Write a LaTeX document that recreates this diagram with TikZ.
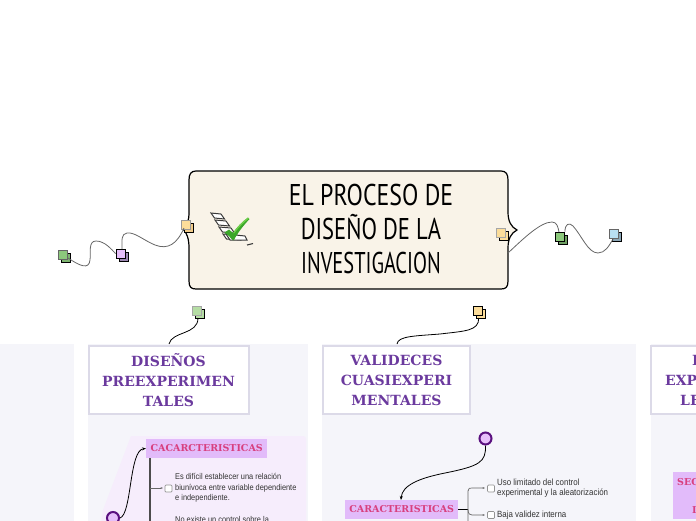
\documentclass[tikz,border=0pt]{standalone}
\usepackage{graphicx}
\usepackage{fontspec}
\setmainfont{Liberation Sans}
\newfontfamily\bodyfont[FakeStretch=0.88]{Liberation Sans}
\newfontfamily\titlefont[FakeStretch=0.82]{PT Sans}
\newfontfamily\headfont{DejaVu Serif}
\usetikzlibrary{arrows.meta}
\definecolor{panelbg}{HTML}{F5F5FA}
\definecolor{hborder}{HTML}{DCDAE8}
\definecolor{hpurple}{HTML}{6B3A9E}
\definecolor{paper}{HTML}{F9F3E8}
\definecolor{lilac}{HTML}{F6EDFC}
\definecolor{tagbg}{HTML}{E2BBFA}
\definecolor{tagtxt}{HTML}{D8407F}
\definecolor{ringc}{HTML}{5A107F}
\definecolor{ringf}{HTML}{E6BFFA}
\definecolor{wire}{HTML}{666666}
\definecolor{bodytxt}{HTML}{333333}
\definecolor{myel}{HTML}{FCDD9A}
\definecolor{mgrn}{HTML}{8CC97C}
\definecolor{mgrnb}{HTML}{6E9F62}
\definecolor{mpale}{HTML}{B5DDA4}
\definecolor{mblue}{HTML}{B8DFF2}
\definecolor{mblueb}{HTML}{8AA5B5}
\definecolor{mpurb}{HTML}{9B86B0}
\definecolor{checkg}{HTML}{3BA72A}
\definecolor{checkl}{HTML}{6FD04A}
\definecolor{listd}{HTML}{3A3A3A}
\tikzset{
  x=1pt,y=-1pt,
  panel/.style={fill=panelbg,draw=none},
  headbox/.style={draw=hborder,line width=2pt,fill=white,minimum height=68pt,inner sep=0pt},
  headtext/.style={text=hpurple,font=\headfont\bfseries\fontsize{14}{20}\selectfont,align=center,inner sep=0pt},
  headfrag/.style={text=hpurple,font=\headfont\bfseries\fontsize{14}{20}\selectfont,anchor=west,inner sep=0pt},
  titletext/.style={font=\titlefont\fontsize{30}{34}\selectfont,align=center,inner sep=0pt,text=black},
  tag/.style={fill=tagbg,text=tagtxt,font=\headfont\bfseries\fontsize{9.5}{11}\selectfont,inner sep=0pt,minimum height=19pt},
  tagfrag/.style={text=tagtxt,font=\headfont\bfseries\fontsize{9.5}{11}\selectfont,anchor=west,inner sep=0pt},
  body/.style={text=bodytxt,font=\bodyfont\fontsize{8.4}{10.3}\selectfont,align=left,anchor=west,inner sep=0pt},
  bodywide/.style={body,font=\bodyfont\fontsize{9}{10.3}\selectfont},
  wirel/.style={draw=wire,line width=.8pt},
  blackl/.style={draw=black,line width=.8pt},
  ring/.style={circle,draw=ringc,fill=ringf,line width=2pt,minimum size=12pt,inner sep=0pt},
  chk/.style={draw=gray!85,fill=white,rounded corners=1pt,line width=.7pt,minimum size=7pt,inner sep=0pt},
}
\newcommand{\stickmark}[6]{% name, x, y, front colour, back colour, front border
  \fill[#5,draw=black,line width=.7pt] (#2-3.5,#3-3.5) rectangle (#2+5.5,#3+5.5);
  \node[draw=#6,fill=#4,line width=.9pt,minimum size=9pt,inner sep=0pt] (#1) at (#2-2,#3-2) {};
}
\begin{document}
\begin{tikzpicture}
\useasboundingbox (0,0) rectangle (696,520);
\begin{scope}
\clip (0,0) rectangle (696,520);
% panels
\fill[panel] (-10,344) rectangle (74,530);
\fill[panel] (88,344) rectangle (308,530);
\fill[panel] (322,344) rectangle (636,530);
\fill[panel] (651,344) rectangle (710,530);
% lilac area
\fill[lilac] (131,436) -- (303,436) .. controls (305,436) and (306,437) .. (306,439) -- (306,530) -- (100,530) -- (103,510) -- cycle;

% central topic
\draw[black,line width=1.2pt,fill=paper]
  (196,171) -- (501,171)
  .. controls (506,171) and (508,174) .. (508,180)
  -- (508,212)
  .. controls (508,221) and (511,227) .. (517,230)
  .. controls (511,233) and (508,239) .. (508,248)
  -- (508,281)
  .. controls (508,287) and (506,289) .. (501,289)
  -- (196,289)
  .. controls (191,289) and (189,287) .. (189,281)
  -- (189,248)
  .. controls (189,239) and (187,233) .. (183,229)
  .. controls (187,226) and (189,221) .. (189,212)
  -- (189,180)
  .. controls (189,174) and (191,171) .. (196,171) -- cycle;
\coordinate (leftjoin) at (184,228);
\coordinate (rightjoin) at (508,253);
\node[titletext] (title) at (371,229) {\scalebox{.97}[1]{EL PROCESO DE}\\\scalebox{.92}[1]{DISEÑO DE LA}\\\scalebox{.83}[1]{INVESTIGACION}};

% check-list icon
\foreach \i/\w in {0/10,1/11,2/12,3/14}{
  \draw[listd,line width=1pt,fill=white]
     (211+\i*4,213+\i*7) -- (211+\i*4+\w,214+\i*7) -- (214.5+\i*4+\w,219+\i*7) -- (214.5+\i*4,218+\i*7) -- cycle;
}
\draw[listd,line width=1pt,fill=white] (226,234) -- (245,236) -- (247,240) -- (230,240) -- cycle;
\draw[listd,line width=1.1pt] (247,245) -- (253,243.5);
\fill[checkg] (224.5,232.5) -- (229,229.5) -- (233,233) .. controls (237,227) and (242,222) .. (248,217.5)
   -- (249.5,219) .. controls (244,225) and (238,232) .. (234,240)
   -- (232.5,240) .. controls (230,237) and (228,235) .. (224.5,232.5) -- cycle;
\fill[checkl] (233,233) .. controls (237,227) and (242,222) .. (248,217.5) -- (249,218.5) .. controls (244,222) and (239,227) .. (234.5,233) -- cycle;

% top markers
\stickmark{mr}{187.5}{227}{myel}{myel!80!brown}{gray!80}
\stickmark{mp}{122.5}{255.5}{ringf}{mpurb}{black}
\stickmark{mg}{65}{257}{mgrn}{mgrn!90!black}{gray!80!black}
\stickmark{mry}{503}{235}{myel}{myel}{gray!70}
\stickmark{mgr}{562}{238.5}{mgrn}{mgrnb}{black}
\stickmark{mb}{616}{236}{mblue}{mblueb}{gray!80!black}
\stickmark{mgs}{198.5}{312.5}{mpale}{mpale}{gray!70}
\stickmark{mys}{480}{312.5}{myel}{myel}{black}

% upper connectors
\draw[wirel] (leftjoin) .. controls (177,244) and (168,250) .. (155,245)
   .. controls (143,240) and (135,232) .. (127,233)
   .. controls (121,234) and (122,240) .. (122,249);
\draw[wirel] (mp.west) .. controls (112,250) and (105,241) .. (96,241)
   .. controls (88,241) and (91,253) .. (90,260)
   .. controls (89,270) and (80,266) .. (68,258);
\draw[wirel] (rightjoin) .. controls (522,240) and (540,222) .. (552,222)
   .. controls (557,222) and (558,227) .. (559,232);
\draw[wirel] (mgr.north east) .. controls (565,224) and (569,222) .. (573,226)
   .. controls (582,236) and (588,253) .. (598,253)
   .. controls (605,253) and (609,246) .. (613,239);
% lower connectors
\node[headbox,minimum width=160pt] (h1) at (168.5,380) {};
\node[headbox,minimum width=147pt] (h2) at (396.5,380) {};
\node[headbox,minimum width=139pt] (h3) at (720,380) {};
\coordinate (gsout) at (198,318);
\coordinate (ysout) at (478.7,318);
\draw[blackl] (gsout) .. controls (198,335) and (172,331) .. (169,344);
\draw[blackl] (ysout) .. controls (479,331) and (465,331) .. (440,334) .. controls (415,336) and (398,336) .. (397,344);

\node[headtext] at (168.5,380) {DISEÑOS\\PREEXPERIMEN\\TALES};
\node[headtext] at (396.5,380) {VALIDECES\\CUASIEXPERI\\MENTALES};
\node[headfrag] at (692,360) {D};
\node[headfrag] at (665,380) {EXP};
\node[headfrag] at (680,400) {LE};

% left branch
\node[tag,minimum width=121pt,anchor=west] (t1) at (146,448.5) {CACARCTERISTICAS};
\node[ring] (r1) at (113,518) {};
\draw[blackl,-{Stealth[length=4pt]}] (r1.east) .. controls (132,514) and (129,450) .. (t1.west);
\draw[draw=black!70,line width=1.1pt] (150,458) -- (150,530);
\draw[wirel,line width=.6pt,-{Stealth[length=2.5pt]}] (150,488) -- (163,488);
\node[chk] (c1) at (168.5,488.5) {};
\node[body] at (175,488) {Es difícil establecer una relación\\biunívoca entre variable dependiente\\e independiente.};
\node[body] at (175,519) {No existe un control sobre la};

% middle branch
\node[ring] (r2) at (485.5,438.5) {};
\node[tag,minimum width=113pt,anchor=west] (t2) at (345,509.5) {CARACTERISTICAS};
\coordinate (t2top) at (401,500);
\draw[blackl,-{Stealth[length=4pt]}] (r2.south) .. controls (486,462) and (480,466) .. (445,473) .. controls (420,478) and (402,485) .. (t2top);
\draw[draw=black,line width=.9pt] (458,509.5) -- (468,509.5);
\draw[wirel,line width=.7pt,-{Stealth[length=2.5pt]}] (468,530) -- (468,491) .. controls (468,488) and (470,488) .. (472,488) -- (485,488);
\draw[wirel,line width=.7pt,-{Stealth[length=2.5pt]}] (468,509.5) .. controls (468,514) and (470,515) .. (472,515) -- (485,515);
\node[chk] (c2) at (491,488.5) {};
\node[chk] (c3) at (491,515) {};
\node[bodywide] at (497,488) {Uso limitado del control\\experimental y la aleatorización};
\node[bodywide] at (497,515) {Baja validez interna};

% right branch
\fill[tagbg] (673,472) rectangle (710,519);
\node[tagfrag] at (677,482) {SEG};
\node[tagfrag] at (692,510) {D};
\end{scope}
\end{tikzpicture}
\end{document}
